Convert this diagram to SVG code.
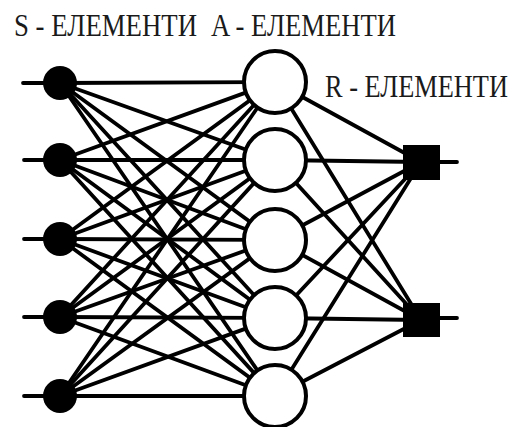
<svg xmlns="http://www.w3.org/2000/svg" width="514" height="427" viewBox="0 0 514 427">
<style>
.lbl{font-family:'Liberation Serif','Times New Roman',Times,serif;font-size:27px;fill:#1a1a1a}
.c line{stroke:#000;stroke-width:3.8;stroke-linecap:round}
.s{fill:#000}
.a{fill:#fff;stroke:#000;stroke-width:4}
.r{fill:#000}
</style>
<rect width="514" height="427" fill="#fff"/>
<text class="lbl" transform="translate(14,36) scale(1,1.2)" textLength="183" lengthAdjust="spacingAndGlyphs">S - ЕЛЕМЕНТИ</text>
<text class="lbl" transform="translate(211,36) scale(1,1.2)" textLength="185" lengthAdjust="spacingAndGlyphs">A - ЕЛЕМЕНТИ</text>
<text class="lbl" transform="translate(325,97) scale(1,1.2)" textLength="183" lengthAdjust="spacingAndGlyphs">R - ЕЛЕМЕНТИ</text>
<g id="connectors" class="c">
<line x1="23" y1="83" x2="60" y2="83"/>
<line x1="24" y1="160" x2="60" y2="160"/>
<line x1="24" y1="239" x2="60" y2="239"/>
<line x1="24" y1="317" x2="60" y2="317"/>
<line x1="24" y1="396" x2="60" y2="396"/>
<line x1="60" y1="83" x2="275" y2="82"/><line x1="60" y1="83" x2="275" y2="160"/><line x1="60" y1="83" x2="275" y2="240"/><line x1="60" y1="83" x2="275" y2="318"/><line x1="60" y1="83" x2="275" y2="396"/>
<line x1="60" y1="160" x2="275" y2="82"/><line x1="60" y1="160" x2="275" y2="160"/><line x1="60" y1="160" x2="275" y2="240"/><line x1="60" y1="160" x2="275" y2="318"/><line x1="60" y1="160" x2="275" y2="396"/>
<line x1="60" y1="239" x2="275" y2="82"/><line x1="60" y1="239" x2="275" y2="160"/><line x1="60" y1="239" x2="275" y2="240"/><line x1="60" y1="239" x2="275" y2="318"/><line x1="60" y1="239" x2="275" y2="396"/>
<line x1="60" y1="317" x2="275" y2="82"/><line x1="60" y1="317" x2="275" y2="160"/><line x1="60" y1="317" x2="275" y2="240"/><line x1="60" y1="317" x2="275" y2="318"/><line x1="60" y1="317" x2="275" y2="396"/>
<line x1="60" y1="396" x2="275" y2="82"/><line x1="60" y1="396" x2="275" y2="160"/><line x1="60" y1="396" x2="275" y2="240"/><line x1="60" y1="396" x2="275" y2="318"/><line x1="60" y1="396" x2="275" y2="396"/>
<line x1="275" y1="82" x2="421" y2="162"/><line x1="275" y1="82" x2="421" y2="320"/>
<line x1="275" y1="160" x2="421" y2="162"/><line x1="275" y1="160" x2="421" y2="320"/>
<line x1="275" y1="240" x2="421" y2="162"/><line x1="275" y1="240" x2="421" y2="320"/>
<line x1="275" y1="318" x2="421" y2="162"/><line x1="275" y1="318" x2="421" y2="320"/>
<line x1="275" y1="396" x2="421" y2="162"/><line x1="275" y1="396" x2="421" y2="320"/>
<line x1="421" y1="162" x2="457" y2="162"/>
<line x1="421" y1="318" x2="457" y2="318"/>
</g>
<g id="S1"><circle class="s" cx="60" cy="83" r="17"/></g>
<g id="S2"><circle class="s" cx="60" cy="160" r="17"/></g>
<g id="S3"><circle class="s" cx="60" cy="239" r="17"/></g>
<g id="S4"><circle class="s" cx="60" cy="317" r="17"/></g>
<g id="S5"><circle class="s" cx="60" cy="396" r="17"/></g>
<g id="A1"><circle class="a" cx="275" cy="82" r="31"/></g>
<g id="A2"><circle class="a" cx="275" cy="160" r="31"/></g>
<g id="A3"><circle class="a" cx="275" cy="240" r="31"/></g>
<g id="A4"><circle class="a" cx="275" cy="318" r="31"/></g>
<g id="A5"><circle class="a" cx="275" cy="396" r="31"/></g>
<g id="R1"><rect class="r" x="403" y="145" width="37" height="35"/></g>
<g id="R2"><rect class="r" x="403" y="303" width="37" height="34"/></g>
</svg>
